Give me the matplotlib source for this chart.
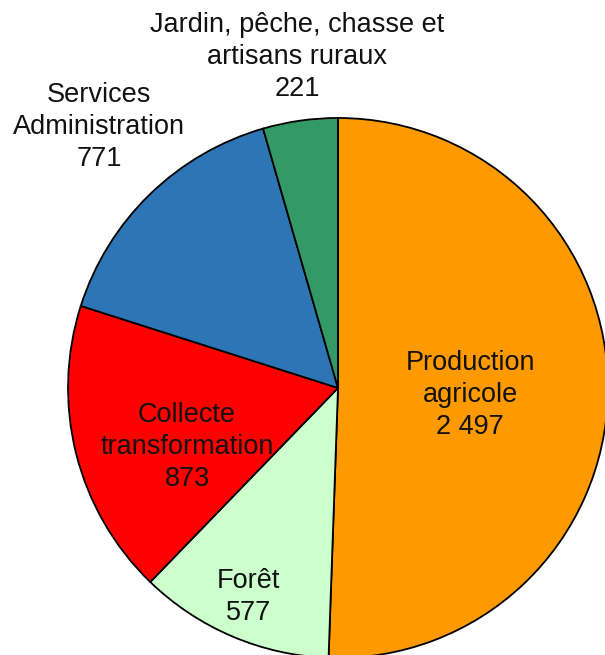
import matplotlib.pyplot as plt

plt.rcParams['font.family'] = ['Liberation Sans', 'DejaVu Sans']

# data
categories = ["Production\nagricole", "Forêt", "Collecte\ntransformation",
              "Services\nAdministration", "Jardin, pêche, chasse et\nartisans ruraux"]
values = [2497, 577, 873, 771, 221]
value_labels = ["2 497", "577", "873", "771", "221"]
colors = ["#FF9900", "#CCFFCC", "#FF0000", "#2E75B6", "#339966"]

# label anchor points (data coords, pie radius = 1)
label_pos = [(0.489, -0.026), (-0.333, -0.774), (-0.559, -0.219),
             (-0.885, 0.967), (-0.152, 1.226)]

fig = plt.figure(figsize=(6.05, 6.55), dpi=100)
ax = fig.add_axes([0, 0, 1, 1])
ax.pie(values, startangle=90, counterclock=False, colors=colors,
       wedgeprops=dict(edgecolor="black", linewidth=1.3))

for cat, val, (x, y) in zip(categories, value_labels, label_pos):
    ax.text(x, y, cat + "\n" + val, ha="center", va="center",
            fontsize=19.5, color="#111111", linespacing=1.3)

ax.set_xlim(-1.252, 0.989)
ax.set_ylim(-0.989, 1.437)
ax.set_aspect("auto")
ax.axis("off")

fig.savefig("out.png", dpi=100)
